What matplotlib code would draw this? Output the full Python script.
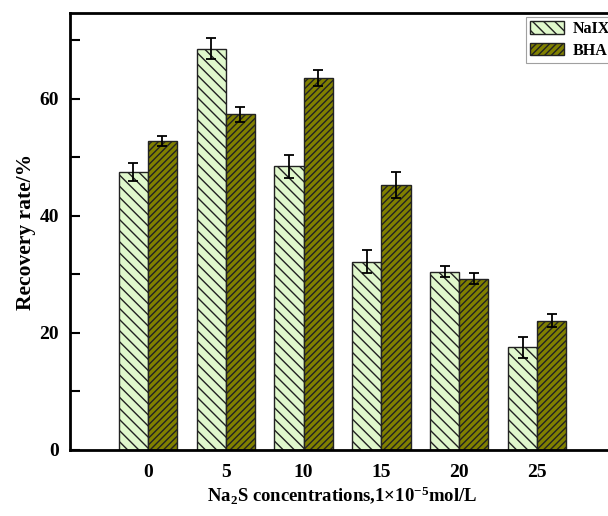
import numpy as np
import matplotlib.pyplot as plt

plt.rcParams['font.family'] = ['Liberation Serif', 'DejaVu Serif']
plt.rcParams['font.weight'] = 'bold'
plt.rcParams['mathtext.fontset'] = 'custom'
plt.rcParams['mathtext.rm'] = 'Liberation Serif:bold'
plt.rcParams['mathtext.bf'] = 'Liberation Serif:bold'
plt.rcParams['mathtext.default'] = 'rm'
plt.rcParams['hatch.linewidth'] = 1.0

categories = ['0', '5', '10', '15', '20', '25']
naix = [47.5, 68.6, 48.5, 32.2, 30.5, 17.6]
naix_err = [1.6, 1.8, 2.0, 2.0, 1.0, 1.8]
bha = [52.8, 57.4, 63.6, 45.3, 29.3, 22.1]
bha_err = [0.8, 1.3, 1.3, 2.3, 1.0, 1.1]

fig = plt.figure(figsize=(6.08, 5.16), dpi=100)
ax = fig.add_axes([70/608, 66/516, 545/608, 437/516])

x = np.arange(len(categories))
w = 0.375
ax.bar(x - w/2, naix, w, color='#e0f8cc', edgecolor='#222222', hatch='\\\\\\',
       linewidth=1, label='NaIX', zorder=2)
ax.bar(x + w/2, bha, w, color='#808000', edgecolor='#222222', hatch='/////',
       linewidth=1, label='BHA', zorder=2)
ax.errorbar(x - w/2, naix, yerr=naix_err, fmt='none', ecolor='black',
            elinewidth=1.3, capsize=3.5, capthick=1.3, zorder=3)
ax.errorbar(x + w/2, bha, yerr=bha_err, fmt='none', ecolor='black',
            elinewidth=1.3, capsize=3.5, capthick=1.3, zorder=3)

ax.set_xlim(-1.0, 6.0)
ax.set_ylim(0, 74.7)
ax.set_xticks(x)
ax.set_xticklabels(categories)
ax.set_yticks([0, 20, 40, 60])
ax.set_yticks([10, 30, 50, 70], minor=True)
ax.tick_params(axis='x', length=0, labelsize=14, pad=10)
ax.tick_params(axis='y', which='both', direction='in', length=7, width=1.5,
               labelsize=14, pad=8)
for s in ax.spines.values():
    s.set_linewidth(2)

ax.set_ylabel('Recovery rate/%', fontsize=15.5, fontweight='bold', labelpad=2)
ax.set_xlabel('Na$_2$S concentrations,1\u00d710$^{-5}$mol/L',
              fontsize=13.5, fontweight='bold', labelpad=2)

leg = ax.legend(loc='upper left', bbox_to_anchor=(526/608, 1 - 17/516),
                bbox_transform=fig.transFigure, fontsize=11.5, frameon=True,
                fancybox=False, edgecolor='#888888', handlelength=2.1,
                handleheight=0.8, borderaxespad=0, borderpad=0.25,
                labelspacing=0.35, handletextpad=0.55)
leg.get_frame().set_linewidth(0.8)

fig.savefig('out.png', dpi=100)
